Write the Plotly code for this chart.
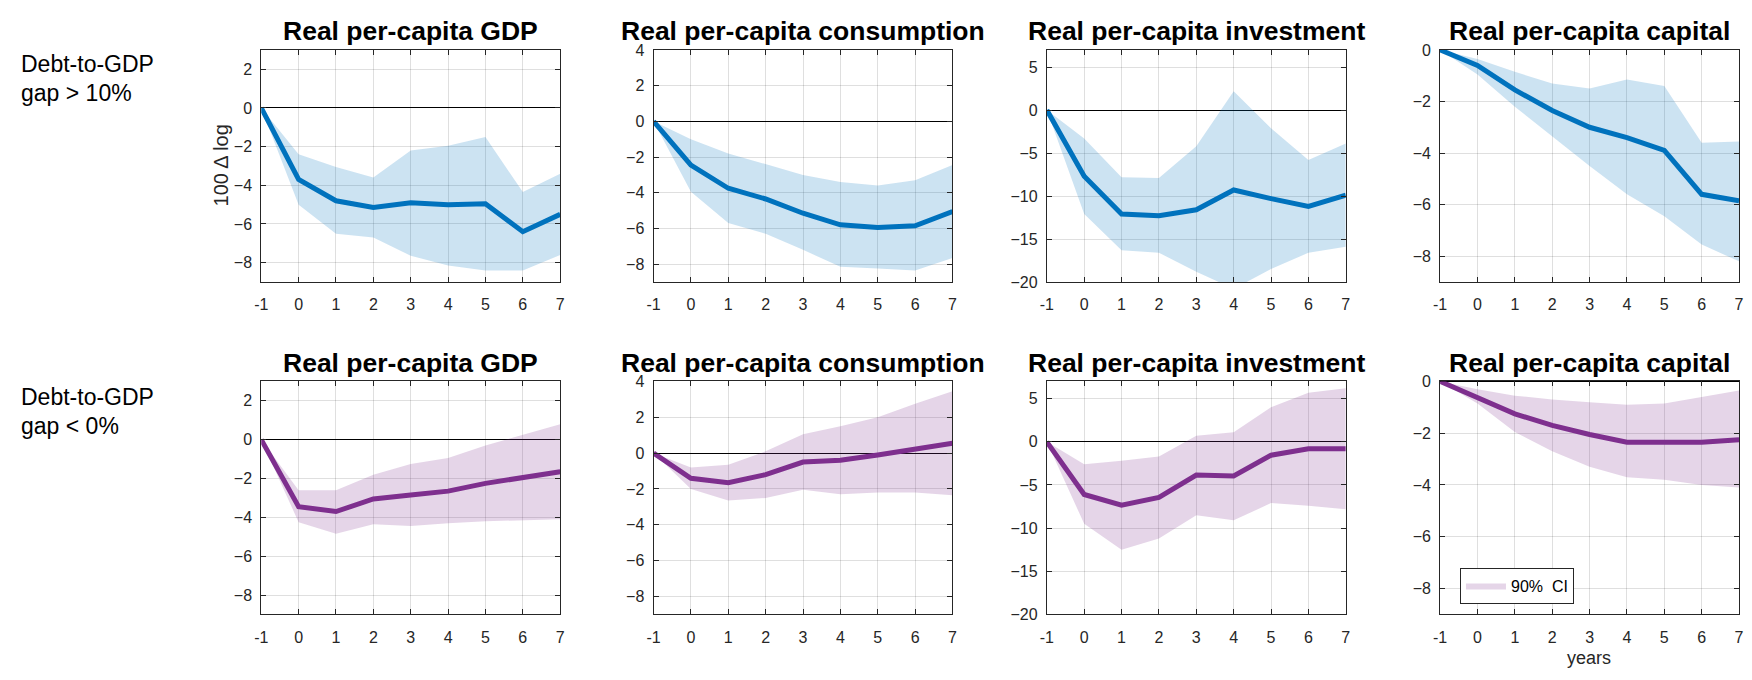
import plotly.graph_objects as go

W, H = 1752, 680

years = [-1, 0, 1, 2, 3, 4, 5, 6, 7]

# Row 1: Debt-to-GDP gap > 10%
gdp_hi_mean = [0, -3.7, -4.8, -5.15, -4.9, -5.0, -4.95, -6.4, -5.5]
gdp_hi_up = [0, -2.4, -3.05, -3.6, -2.2, -1.95, -1.5, -4.35, -3.4]
gdp_hi_lo = [0, -5.0, -6.5, -6.7, -7.65, -8.15, -8.4, -8.4, -7.6]

cons_hi_mean = [0, -2.45, -3.75, -4.35, -5.15, -5.8, -5.95, -5.85, -5.05]
cons_hi_up = [0, -1.0, -1.8, -2.4, -3.0, -3.4, -3.6, -3.3, -2.45]
cons_hi_lo = [0, -3.95, -5.7, -6.3, -7.2, -8.15, -8.25, -8.35, -7.65]

inv_hi_mean = [0, -7.7, -12.1, -12.3, -11.6, -9.3, -10.3, -11.2, -9.9]
inv_hi_up = [0, -3.3, -7.8, -7.9, -4.2, 2.2, -2.1, -5.8, -3.9]
inv_hi_lo = [0, -12.1, -16.3, -16.6, -18.8, -20.8, -18.5, -16.6, -15.9]

cap_hi_mean = [0, -0.6, -1.55, -2.35, -3.0, -3.4, -3.9, -5.6, -5.85]
cap_hi_up = [0, -0.35, -0.85, -1.3, -1.5, -1.15, -1.4, -3.6, -3.55]
cap_hi_lo = [0, -0.95, -2.2, -3.35, -4.5, -5.6, -6.45, -7.55, -8.2]

# Row 2: Debt-to-GDP gap < 0%
gdp_lo_mean = [0, -3.45, -3.7, -3.05, -2.85, -2.65, -2.25, -1.95, -1.65]
gdp_lo_up = [0, -2.6, -2.6, -1.8, -1.25, -0.95, -0.3, 0.25, 0.8]
gdp_lo_lo = [0, -4.25, -4.85, -4.35, -4.45, -4.3, -4.2, -4.15, -4.1]

cons_lo_mean = [0, -1.4, -1.65, -1.2, -0.5, -0.4, -0.1, 0.25, 0.55]
cons_lo_up = [0, -0.8, -0.65, 0.1, 1.05, 1.5, 2.0, 2.75, 3.45]
cons_lo_lo = [0, -2.0, -2.65, -2.5, -2.05, -2.3, -2.2, -2.2, -2.35]

inv_lo_mean = [0, -6.1, -7.35, -6.45, -3.85, -3.95, -1.55, -0.8, -0.8]
inv_lo_up = [0, -2.6, -2.2, -1.7, 0.7, 1.1, 4.0, 5.7, 6.2]
inv_lo_lo = [0, -9.5, -12.5, -11.2, -8.5, -9.1, -7.1, -7.4, -7.8]

cap_lo_mean = [0, -0.6, -1.25, -1.7, -2.05, -2.35, -2.35, -2.35, -2.25]
cap_lo_up = [0, -0.3, -0.55, -0.7, -0.8, -0.9, -0.85, -0.6, -0.35]
cap_lo_lo = [0, -0.85, -1.95, -2.7, -3.3, -3.7, -3.8, -4.0, -4.1]

titles = ["Real per-capita GDP", "Real per-capita consumption",
          "Real per-capita investment", "Real per-capita capital"]
row_labels = [["Debt-to-GDP", "gap > 10%"], ["Debt-to-GDP", "gap < 0%"]]
y_ranges = [[-9, 3], [-9, 4], [-20, 7], [-9, 0]]
y_dticks = [2, 2, 5, 2]
x_ticks = years
legend_label = "90%\u00a0 CI"
x_title = "years"
y_title = "100 \u0394 log"

series = [
    [(gdp_hi_mean, gdp_hi_up, gdp_hi_lo), (cons_hi_mean, cons_hi_up, cons_hi_lo),
     (inv_hi_mean, inv_hi_up, inv_hi_lo), (cap_hi_mean, cap_hi_up, cap_hi_lo)],
    [(gdp_lo_mean, gdp_lo_up, gdp_lo_lo), (cons_lo_mean, cons_lo_up, cons_lo_lo),
     (inv_lo_mean, inv_lo_up, inv_lo_lo), (cap_lo_mean, cap_lo_up, cap_lo_lo)],
]
line_colors = ["#0072BD", "#7E2F8E"]
fill_colors = ["rgba(0,114,189,0.2)", "rgba(126,47,142,0.2)"]

cols_px = [(256, 557), (651, 952), (1047, 1348), (1443, 1744)]
rows_px = [(43, 281), (383, 622)]
title_y_px = [24, 364]
label_y_px = [(57, 87), (399, 429)]

FONT = "Liberation Sans, Arial, Helvetica, sans-serif"
AX = "#262626"

fig = go.Figure()
layout = dict(
    width=W, height=H, margin=dict(l=0, r=0, t=0, b=0),
    paper_bgcolor="white", plot_bgcolor="white",
    font=dict(family=FONT, size=16, color=AX),
    showlegend=True,
)
annotations = []

for r in range(2):
    for c in range(4):
        k = r * 4 + c + 1
        xa = "x" if k == 1 else f"x{k}"
        ya = "y" if k == 1 else f"y{k}"
        mean, up, lo = series[r][c]
        is_leg = (r == 1 and c == 3)
        fig.add_trace(go.Scatter(x=years, y=up, mode="lines", line=dict(width=0, color=fill_colors[r]),
                                 xaxis=xa, yaxis=ya, showlegend=False, hoverinfo="skip"))
        fig.add_trace(go.Scatter(x=years, y=lo, mode="lines", line=dict(width=0, color=fill_colors[r]),
                                 fill="tonexty", fillcolor=fill_colors[r],
                                 xaxis=xa, yaxis=ya, showlegend=is_leg, name=legend_label))
        fig.add_trace(go.Scatter(x=years, y=mean, mode="lines", line=dict(width=5, color=line_colors[r]),
                                 xaxis=xa, yaxis=ya, showlegend=False))
        x0, x1 = cols_px[c]
        y0, y1 = rows_px[r]
        common = dict(showline=True, linecolor=AX, linewidth=1, mirror="allticks",
                      ticks="inside", ticklen=5, tickcolor=AX, showgrid=True,
                      gridcolor="rgba(38,38,38,0.15)", gridwidth=1,
                      tickfont=dict(family=FONT, size=16, color=AX), fixedrange=True)
        layout["xaxis" + ("" if k == 1 else str(k))] = dict(
            domain=[x0 / W, x1 / W], anchor=ya, range=[-1, 7], tickmode="array",
            tickvals=x_ticks, ticktext=[str(v) for v in x_ticks], zeroline=False,
            ticklabelstandoff=8, **common)
        layout["yaxis" + ("" if k == 1 else str(k))] = dict(
            domain=[1 - y1 / H, 1 - y0 / H], anchor=xa, range=y_ranges[c],
            tick0=0, dtick=y_dticks[c], zeroline=True, zerolinecolor="black",
            zerolinewidth=1, ticklabelstandoff=5, **common)
        annotations.append(dict(text=f"<b>{titles[c]}</b>", x=(x0 + x1) / 2 / W,
                                y=1 - title_y_px[r] / H, xref="paper", yref="paper",
                                xanchor="center", yanchor="middle", showarrow=False,
                                font=dict(family=FONT, size=26.5, color="black")))
    for i, txt in enumerate(row_labels[r]):
        annotations.append(dict(text=txt, x=12 / W, y=1 - label_y_px[r][i] / H,
                                xref="paper", yref="paper", xanchor="left", yanchor="middle",
                                showarrow=False, font=dict(family=FONT, size=23, color="black")))

annotations.append(dict(text=y_title, x=215 / W, y=1 - 162 / H, xref="paper", yref="paper",
                        xanchor="center", yanchor="middle", textangle=-90, showarrow=False,
                        font=dict(family=FONT, size=20, color=AX)))
annotations.append(dict(text=x_title, x=1593 / W, y=1 - 667 / H, xref="paper", yref="paper",
                        xanchor="center", yanchor="middle", showarrow=False,
                        font=dict(family=FONT, size=18, color=AX)))

layout["annotations"] = annotations
layout["legend"] = dict(x=1463 / W, y=1 - 574 / H, xanchor="left", yanchor="top",
                        bgcolor="white", bordercolor=AX, borderwidth=1,
                        font=dict(family=FONT, size=16, color="black"),
                        itemwidth=40, tracegroupgap=0)
fig.update_layout(**layout)
fig.write_html("out.html", config={"displayModeBar": False},
               post_script="document.body.style.margin='0';document.body.style.padding='0';")
